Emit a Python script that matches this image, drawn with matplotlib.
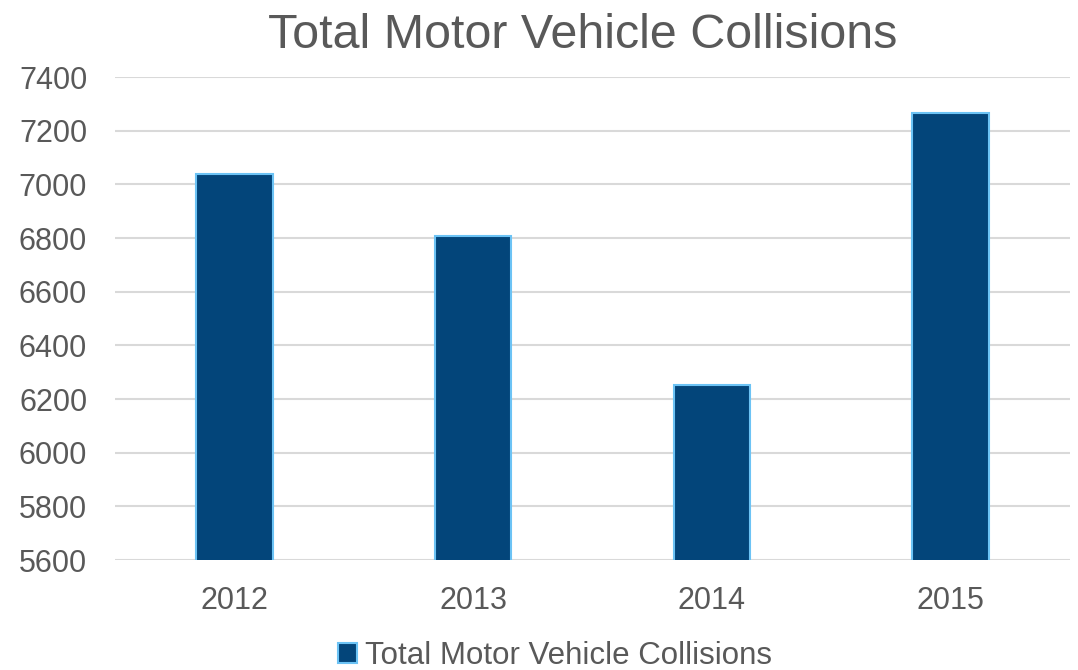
#!/usr/bin/env python3
import matplotlib
matplotlib.use("Agg")
import matplotlib.pyplot as plt
import matplotlib as mpl

mpl.rcParams["font.family"] = ["Liberation Sans", "DejaVu Sans"]

years = ["2012", "2013", "2014", "2015"]
collisions = [7040, 6808, 6252, 7267]
yticks = [5600, 5800, 6000, 6200, 6400, 6600, 6800, 7000, 7200, 7400]
series_name = "Total Motor Vehicle Collisions"

TEXT = "#595959"
FILL = "#03457A"
EDGE = "#6CC3F5"
GRID = "#D9D9D9"

fig = plt.figure(figsize=(10.78, 6.70), dpi=100)
ax = fig.add_axes([115 / 1078, 1 - 560 / 670, (1070 - 115) / 1078, (560 - 77) / 670])

x = list(range(len(years)))
ax.bar(x, collisions, width=0.32, color=FILL, edgecolor=EDGE, linewidth=1.5,
       label=series_name, zorder=3)

ax.set_xlim(-0.5, len(years) - 0.5)
ax.set_ylim(yticks[0], yticks[-1])
ax.set_yticks(yticks)
ax.set_xticks(x)
ax.set_xticklabels(years)
ax.yaxis.grid(True, color=GRID, linewidth=1.5)
ax.set_axisbelow(True)
for s in ax.spines.values():
    s.set_visible(False)
ax.tick_params(axis="both", length=0, labelsize=22, colors=TEXT)
ax.tick_params(axis="y", pad=20)
ax.tick_params(axis="x", pad=19)

fig.text(583 / 1078, 1 - 36 / 670, series_name, ha="center", va="center",
         fontsize=34.8, color=TEXT)

fig.legend(loc="center", bbox_to_anchor=(555 / 1078, 1 - 656 / 670),
           frameon=False, fontsize=22.5, labelcolor=TEXT,
           handlelength=0.6, handleheight=0.6, handletextpad=0.25,
           borderpad=0, borderaxespad=0)

fig.savefig("out.png", dpi=100)
